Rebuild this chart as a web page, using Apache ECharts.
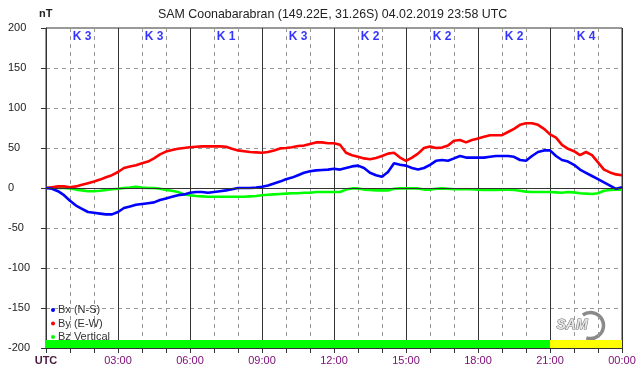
<!DOCTYPE html>
<html>
<head>
<meta charset="utf-8">
<script src="https://cdn.jsdelivr.net/npm/echarts@6/dist/echarts.min.js"></script>
<style>
  html, body { margin: 0; padding: 0; background: #fff; }
  #main { width: 642px; height: 376px; }
</style>
</head>
<body>
<div id="main"></div>
<script>
// 15 minute samples, 00:00 .. 24:00 UTC
var step = 0.25;

var bx = [0, -1, -4, -9, -16, -22, -26, -30, -31, -32, -33, -33, -30, -25, -23, -21, -20, -19, -18, -15, -13, -11, -9, -8, -6,
    -5, -5, -6, -5, -4, -3, -1.5, 0, 0, 0, 0.5, 1.5, 3, 5.5, 8, 11, 13, 16, 19, 21, 22, 22.5, 23, 24,
    23, 25, 27, 28, 25, 19, 16, 14, 20, 31, 29, 28, 25, 23, 25, 29, 34, 35, 34, 37, 40, 38, 38, 38,
    38, 39, 40, 40, 40, 39, 35, 34, 40, 45, 47, 47, 40, 35, 33, 29, 23, 19, 15, 11, 7, 3, -1, 1];

var by = [0, 1, 2, 2, 1, 2, 4, 6, 8, 10.5, 13.5, 16, 20, 25, 27, 28.5, 31, 33, 37, 42, 45.5, 47.5, 49, 50, 51,
    51.5, 52, 52, 52, 52, 51.5, 49, 47, 46, 45, 44.5, 44, 45, 47, 49.5, 50, 51, 52.5, 53, 55, 57, 57, 56, 56,
    54, 44, 41, 39, 37, 36, 37.5, 40, 43, 44, 38, 34, 38, 43, 50, 52, 50, 50.5, 53, 59, 60, 57, 60, 62,
    64, 66, 66, 66, 70, 74, 79, 81, 81, 79, 74, 67, 63, 54, 49, 46, 41, 45, 41, 32, 23, 19.5, 17, 16];

var bz = [0, 0, 0, 0, -0.5, -2, -3, -4, -4, -3.5, -2.5, -1.5, -1, 0, 0.5, 1.5, 0.5, 0, 0, -1, -2.5, -3.5, -5, -8, -9,
    -10, -10.5, -11, -11, -11, -11, -11, -11, -11, -10.5, -10, -9, -8.5, -8, -7.5, -7, -6.5, -6.5, -6, -6, -5, -5, -5, -5,
    -5, -2, -0.5, -0.5, -2, -2.5, -3, -3, -3, -1, -0.5, -0.5, -0.5, -0.5, -2, -2, -1, -0.5, -1, -1.5, -1.5, -1.5, -1.5, -2,
    -2.5, -2.5, -2.5, -2, -2, -2.5, -3.5, -4.5, -5, -5, -5, -5, -5.5, -6, -5, -5.5, -6.5, -7, -7.5, -6.5, -3.5, -2.5, -2, -2];

// K index for each 3 hour block
var kIndex = [3, 3, 1, 3, 2, 2, 2, 4];
var xLabels = ['UTC', '03:00', '06:00', '09:00', '12:00', '15:00', '18:00', '21:00', '00:00'];
var names = ['Bx (N-S)', 'By (E-W)', 'Bz Vertical'];

var FONT = '"Liberation Sans", Arial, sans-serif';

function toPairs(arr) {
    var out = [];
    for (var i = 0; i < arr.length; i++) out.push([i * step, arr[i]]);
    return out;
}

// K labels sit in the middle of each block, bar at the bottom coloured by K
var kPoints = [], kAreas = [];
for (var i = 0; i < kIndex.length; i++) {
    kPoints.push({ value: [i * 3 + 1.5, 189], k: kIndex[i] });
    kAreas.push([
        { xAxis: i * 3, yAxis: -200, itemStyle: { color: kIndex[i] >= 4 ? '#ffff00' : '#00ff00', opacity: 1 } },
        { xAxis: i * 3 + 3, yAxis: -190 }
    ]);
}

function lineSeries(name, data, color) {
    return {
        name: name,
        type: 'line',
        data: toPairs(data),
        showSymbol: false,
        symbol: 'circle',
        smooth: false,
        lineStyle: { color: color, width: 2.6 },
        itemStyle: { color: color },
        z: 3
    };
}

var chart = echarts.init(document.getElementById('main'));

var options = {
    animation: false,
    backgroundColor: '#fff',
    textStyle: { fontFamily: FONT },
    title: {
        text: 'SAM Coonabarabran (149.22E, 31.26S) 04.02.2019 23:58 UTC',
        left: 153,
        top: 4,
        textStyle: { fontSize: 12.4, fontWeight: 'normal', color: '#222', fontFamily: FONT }
    },
    grid: {
        left: 46, right: 20, top: 28, bottom: 28,
        show: true, borderColor: '#333', borderWidth: 1
    },
    legend: {
        data: names,
        orient: 'vertical',
        left: 46,
        top: 299,
        icon: 'circle',
        itemWidth: 4,
        itemHeight: 4,
        itemGap: 1.5,
        textStyle: { fontSize: 11, color: '#333', lineHeight: 12, padding: [0, 0, 0, -2], fontFamily: FONT }
    },
    xAxis: {
        type: 'value',
        min: 0,
        max: 24,
        interval: 3,
        axisLine: { show: true, onZero: false, lineStyle: { color: '#333' } },
        axisTick: { show: true, length: 5, lineStyle: { color: '#333' } },
        minorTick: { show: true, splitNumber: 3, length: 5, lineStyle: { color: '#333' } },
        splitLine: { show: true, lineStyle: { color: '#333', width: 1 } },
        minorSplitLine: { show: true, lineStyle: { color: '#999', type: [4, 4] } },
        axisLabel: {
            margin: 7,
            fontSize: 11,
            color: '#80107a',
            fontFamily: FONT,
            formatter: function (v) {
                var s = xLabels[Math.round(v / 3)];
                return v === 0 ? '{u|' + s + '}' : s;
            },
            rich: { u: { fontWeight: 'bold', color: '#4a1a40', fontSize: 11, fontFamily: FONT } }
        }
    },
    yAxis: {
        type: 'value',
        min: -200,
        max: 200,
        interval: 50,
        axisLine: { show: true, lineStyle: { color: '#333' } },
        axisTick: { show: true, length: 5, lineStyle: { color: '#333' } },
        splitLine: { show: true, lineStyle: { color: '#999', type: [4, 4] } },
        axisLabel: { margin: 38, align: 'left', fontSize: 11, color: '#222', fontFamily: FONT }
    },
    graphic: [
        { type: 'text', left: 39, top: 8, style: { text: 'nT', font: 'bold 11px ' + FONT, fill: '#222' } },
        {
            type: 'group', left: 556, top: 310,
            children: [
                { type: 'arc', shape: { cx: 36, cy: 14, r: 13, startAngle: -2.2, endAngle: 1.9, clockwise: true },
                  style: { stroke: '#8a8a8a', lineWidth: 3.5, fill: null } },
                { type: 'text', x: 2, y: 7, style: { text: 'SAM', font: 'italic bold 14px ' + FONT, fill: '#e6e6e6', stroke: '#6a6a6a', lineWidth: 1 } }
            ]
        }
    ],
    series: [
        lineSeries(names[2], bz, '#00ff00'),
        lineSeries(names[1], by, '#ff0000'),
        (function () {
            var s = lineSeries(names[0], bx, '#0000ff');
            s.markLine = {
                silent: true, symbol: 'none', label: { show: false },
                lineStyle: { color: '#333', type: 'solid', width: 1 },
                data: [{ yAxis: 0 }]
            };
            s.markArea = { silent: true, data: kAreas };
            return s;
        })(),
        {
            name: 'K',
            type: 'scatter',
            data: kPoints,
            symbolSize: 0,
            silent: true,
            label: {
                show: true,
                position: 'inside',
                color: '#0000ff',
                fontWeight: 'bold',
                fontSize: 12,
                fontFamily: FONT,
                formatter: function (p) { return 'K ' + p.data.k; }
            },
            z: 4
        }
    ]
};

chart.setOption(options);
</script>
</body>
</html>
